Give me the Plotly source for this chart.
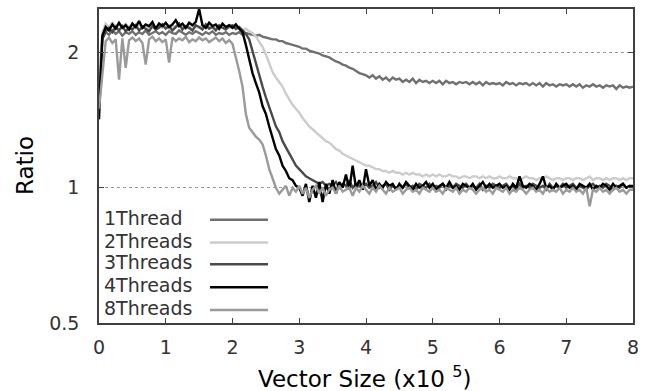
import numpy as np
import plotly.graph_objects as go

# x positions (x10^5), sampled every 0.05
vector_size = np.round(np.arange(0, 8.0001, 0.05), 2)

thread1 = [
    1.62, 2.15, 2.22, 2.19, 2.24, 2.20, 2.23, 2.18, 2.22, 2.20,
    2.23, 2.19, 2.22, 2.20, 2.24, 2.19, 2.21, 2.23, 2.20, 2.22,
    2.19, 2.23, 2.21, 2.20, 2.24, 2.21, 2.19, 2.22, 2.20, 2.23,
    2.21, 2.19, 2.22, 2.20, 2.23, 2.19, 2.21, 2.20, 2.22, 2.19,
    2.21, 2.20, 2.22, 2.19, 2.21, 2.20, 2.19, 2.18, 2.19, 2.17,
    2.16, 2.15, 2.14, 2.14, 2.12, 2.12, 2.10, 2.09, 2.08, 2.07,
    2.06, 2.04, 2.04, 2.02, 2.01, 2.00, 1.99, 1.97, 1.96, 1.95,
    1.93, 1.91, 1.90, 1.88, 1.87, 1.85, 1.84, 1.82, 1.80, 1.79,
    1.78, 1.76, 1.78, 1.75, 1.77, 1.74, 1.76, 1.73, 1.76, 1.74,
    1.75, 1.72, 1.74, 1.72, 1.75, 1.71, 1.74, 1.72, 1.73, 1.71,
    1.73, 1.71, 1.73, 1.70, 1.73, 1.71, 1.72, 1.70, 1.72, 1.71,
    1.72, 1.70, 1.72, 1.70, 1.72, 1.69, 1.72, 1.70, 1.71, 1.70,
    1.71, 1.69, 1.72, 1.70, 1.71, 1.69, 1.71, 1.70, 1.71, 1.69,
    1.71, 1.69, 1.71, 1.68, 1.71, 1.69, 1.70, 1.68, 1.70, 1.69,
    1.70, 1.68, 1.70, 1.68, 1.70, 1.67, 1.69, 1.68, 1.70, 1.68,
    1.69, 1.67, 1.69, 1.68, 1.69, 1.66, 1.69, 1.67, 1.68, 1.67,
    1.68,
]

threads2 = [
    1.75, 2.22, 2.32, 2.28, 2.33, 2.29, 2.31, 2.27, 2.32, 2.28,
    2.30, 2.27, 2.31, 2.28, 2.30, 2.26, 2.31, 2.28, 2.29, 2.27,
    2.30, 2.26, 2.29, 2.28, 2.31, 2.27, 2.29, 2.26, 2.30, 2.28,
    2.27, 2.30, 2.26, 2.29, 2.27, 2.28, 2.25, 2.29, 2.26, 2.27,
    2.28, 2.25, 2.27, 2.24, 2.26, 2.23, 2.21, 2.17, 2.12, 2.06,
    1.98, 1.89, 1.81, 1.76, 1.72, 1.68, 1.62, 1.57, 1.53, 1.50,
    1.47, 1.43, 1.40, 1.37, 1.35, 1.33, 1.31, 1.29, 1.27, 1.26,
    1.24, 1.22, 1.21, 1.19, 1.18, 1.17, 1.16, 1.15, 1.14, 1.13,
    1.12, 1.12, 1.11, 1.10, 1.10, 1.09, 1.09, 1.08, 1.09, 1.08,
    1.08, 1.07, 1.08, 1.07, 1.08, 1.07, 1.07, 1.06, 1.07, 1.06,
    1.07, 1.06, 1.07, 1.06, 1.06, 1.07, 1.06, 1.06, 1.05, 1.06,
    1.06, 1.05, 1.06, 1.06, 1.05, 1.06, 1.05, 1.06, 1.05, 1.05,
    1.06, 1.05, 1.05, 1.06, 1.05, 1.05, 1.04, 1.05, 1.06, 1.05,
    1.05, 1.04, 1.05, 1.05, 1.06, 1.05, 1.04, 1.05, 1.05, 1.04,
    1.05, 1.05, 1.04, 1.05, 1.05, 1.04, 1.05, 1.06, 1.04, 1.05,
    1.05, 1.04, 1.05, 1.04, 1.05, 1.05, 1.04, 1.05, 1.04, 1.05,
    1.05,
]

threads3 = [
    1.55, 2.14, 2.23, 2.27, 2.22, 2.28, 2.24, 2.29, 2.23, 2.27,
    2.25, 2.30, 2.24, 2.28, 2.26, 2.23, 2.29, 2.25, 2.27, 2.31,
    2.26, 2.29, 2.24, 2.28, 2.32, 2.25, 2.29, 2.27, 2.24, 2.30,
    2.28, 2.25, 2.31, 2.26, 2.28, 2.24, 2.30, 2.27, 2.25, 2.29,
    2.30, 2.26, 2.28, 2.24, 2.20, 2.14, 2.01, 1.89, 1.79, 1.68,
    1.59, 1.51, 1.44, 1.37, 1.33, 1.27, 1.23, 1.19, 1.16, 1.12,
    1.10, 1.08, 1.06, 1.05, 1.04, 1.03, 1.02, 1.03, 1.01, 1.02,
    1.01, 1.03, 1.00, 1.02, 1.01, 1.04, 1.00, 1.02, 1.01, 1.00,
    1.02, 1.00, 1.01, 1.03, 1.00, 1.01, 1.02, 0.99, 1.01, 1.00,
    1.01, 1.00, 1.02, 1.00, 1.01, 0.99, 1.02, 1.01, 1.00, 1.02,
    1.00, 1.01, 1.00, 1.02, 0.99, 1.01, 1.00, 1.02, 1.01, 1.00,
    1.02, 1.00, 1.01, 1.00, 1.02, 0.99, 1.01, 1.00, 1.02, 1.01,
    1.00, 1.01, 1.02, 1.00, 1.01, 0.99, 1.02, 1.00, 1.01, 1.00,
    1.02, 1.01, 1.00, 1.01, 0.99, 1.02, 1.00, 1.01, 1.00, 1.02,
    1.00, 1.01, 1.02, 1.00, 1.01, 1.00, 0.99, 1.01, 1.02, 1.00,
    1.01, 1.00, 1.02, 1.01, 0.99, 1.01, 1.00, 1.02, 1.00, 1.01,
    1.00,
]

threads4 = [
    1.42, 2.18, 2.28, 2.24, 2.31, 2.26, 2.33, 2.27, 2.30, 2.25,
    2.32, 2.28, 2.35, 2.27, 2.31, 2.29, 2.34, 2.26, 2.32, 2.29,
    2.33, 2.28, 2.31, 2.36, 2.29, 2.32, 2.27, 2.33, 2.30, 2.34,
    2.50, 2.30, 2.27, 2.33, 2.29, 2.31, 2.26, 2.32, 2.28, 2.30,
    2.27, 2.31, 2.26, 2.22, 2.08, 1.94, 1.80, 1.71, 1.63, 1.52,
    1.46, 1.37, 1.29, 1.22, 1.18, 1.12, 1.09, 1.05, 1.04, 1.01,
    1.00, 0.96, 1.02, 0.93, 1.01, 0.95, 1.03, 0.93, 1.02, 0.97,
    1.04, 0.97, 1.03, 1.00, 1.07, 0.99, 1.12, 1.00, 1.04, 0.99,
    1.10, 1.01, 1.04, 0.99, 1.02, 1.00, 1.03, 1.01, 1.02, 0.99,
    1.02, 1.00, 1.03, 1.01, 0.99, 1.02, 1.00, 1.01, 1.03, 1.00,
    1.02, 0.99, 1.01, 1.02, 1.00, 1.03, 1.00, 1.01, 0.99, 1.02,
    1.01, 1.00, 1.02, 0.99, 1.01, 1.03, 1.00, 1.02, 1.00, 1.01,
    1.02, 1.00, 1.01, 0.99, 1.02, 1.00, 1.06, 1.01, 1.00, 1.02,
    1.01, 0.99, 1.02, 1.06, 1.00, 1.01, 0.99, 1.02, 1.00, 1.01,
    1.02, 1.00, 1.01, 0.99, 1.02, 1.01, 1.00, 1.02, 0.99, 1.01,
    1.00, 1.02, 1.01, 0.99, 1.02, 1.00, 1.01, 1.02, 1.00, 1.01,
    1.01,
]

threads8 = [
    1.50, 1.76, 2.12, 2.16, 2.10, 2.14, 1.74, 2.15, 1.85, 2.13,
    2.16, 2.12, 2.15, 2.10, 1.88, 2.14, 2.17, 2.12, 2.15, 2.11,
    2.14, 1.90, 2.16, 2.12, 2.15, 2.13, 2.17, 2.11, 2.14, 2.12,
    2.16, 2.13, 2.15, 2.11, 2.14, 2.16, 2.12, 2.15, 2.10, 2.13,
    2.09, 1.96, 1.82, 1.68, 1.46, 1.36, 1.33, 1.30, 1.28, 1.25,
    1.18, 1.10, 1.05, 1.00, 0.97, 0.99, 1.01, 0.96, 1.00, 0.98,
    1.01, 0.97, 1.00, 0.95, 0.99, 1.01, 0.97, 1.00, 0.96, 0.99,
    1.00, 0.97, 1.01, 0.98, 0.99, 1.00, 0.96, 1.00, 0.98, 1.01,
    0.99, 0.97, 1.00, 0.98, 1.01, 0.99, 0.97, 1.00, 0.98, 0.99,
    1.00, 0.97, 0.99, 1.00, 0.98, 0.99, 0.97, 1.00, 0.99, 0.98,
    1.00, 0.98, 0.99, 0.97, 1.00, 0.99, 0.98, 1.00, 0.97, 0.99,
    0.98, 1.00, 0.99, 0.97, 0.99, 1.00, 0.98, 0.99, 0.97, 1.00,
    0.99, 0.98, 1.00, 0.97, 0.99, 0.98, 1.00, 0.99, 0.97, 0.99,
    1.00, 0.98, 0.99, 0.97, 1.00, 0.98, 0.99, 0.98, 1.00, 0.97,
    0.99, 0.98, 1.00, 0.98, 0.99, 0.97, 1.00, 0.91, 0.99, 0.98,
    1.00, 0.98, 0.99, 0.97, 0.99, 1.00, 0.98, 0.99, 0.97, 0.99,
    0.99,
]

series_names = ["1Thread", "2Threads", "3Threads", "4Threads", "8Threads"]
series_values = [thread1, threads2, threads3, threads4, threads8]
series_colors = ["#707070", "#cccccc", "#4a4a4a", "#000000", "#9a9a9a"]

x_ticks = [0, 1, 2, 3, 4, 5, 6, 7, 8]
y_ticks = [0.5, 1, 2]
y_tick_text = ["0.5", "1", "2"]

FONT = "DejaVu Sans"

fig = go.Figure()
for name, vals, col in zip(series_names, series_values, series_colors):
    fig.add_trace(go.Scatter(
        x=vector_size, y=vals, mode="lines", name=name,
        line=dict(color=col, width=2.4), showlegend=False,
    ))

# custom legend: text on the left, line sample on the right
W, H = 651, 391
L, R, T, B = 99, 18, 7, 68
pw, ph = W - L - R, H - T - B
def px_x(p):
    return (p - L) / pw
def px_y(p):
    return (H - B - p) / ph

legend_rows = [219, 242, 264, 287, 310]
for name, col, ry in zip(series_names, series_colors, legend_rows):
    fig.add_annotation(
        x=px_x(102), y=px_y(ry - 2), xref="paper", yref="paper",
        text=name, showarrow=False, xanchor="left", yanchor="middle",
        font=dict(family=FONT, size=19, color="#333333"),
    )
    fig.add_shape(
        type="line", xref="paper", yref="paper",
        x0=px_x(210), x1=px_x(268), y0=px_y(ry), y1=px_y(ry),
        line=dict(color=col, width=2.5),
    )

# axis titles
fig.add_annotation(
    x=px_x(25), y=0.5, xref="paper", yref="paper", text="Ratio",
    textangle=-90, showarrow=False, xanchor="center", yanchor="middle",
    font=dict(family=FONT, size=23, color="#000000"),
)
fig.add_annotation(
    x=px_x(365), y=px_y(377), xref="paper", yref="paper",
    text="Vector Size (x10 <sup>5</sup>)", showarrow=False,
    xanchor="center", yanchor="middle",
    font=dict(family=FONT, size=23, color="#000000"),
)

fig.update_layout(
    width=W, height=H,
    margin=dict(l=L, r=R, t=T, b=B, pad=0),
    paper_bgcolor="white", plot_bgcolor="white",
    font=dict(family=FONT, size=19, color="#333333"),
    showlegend=False,
)
fig.update_xaxes(
    range=[0, 8], tickvals=x_ticks, ticks="inside", ticklen=5,
    tickcolor="#404040", showline=True, linecolor="#404040", linewidth=1.5,
    mirror="ticks", showgrid=False, zeroline=False,
    tickfont=dict(family=FONT, size=19, color="#333333"),
    ticklabelstandoff=6,
)
fig.update_yaxes(
    type="log", range=[np.log10(0.5), np.log10(2.5)],
    tickvals=y_ticks, ticktext=y_tick_text, ticks="inside", ticklen=5,
    tickcolor="#404040", showline=True, linecolor="#404040", linewidth=1.5,
    mirror="ticks", showgrid=True, gridcolor="#999999", gridwidth=1,
    griddash="3px,3px", zeroline=False,
    tickfont=dict(family=FONT, size=19, color="#333333"),
    ticklabelstandoff=14,
)

fig.write_html("out.html")
